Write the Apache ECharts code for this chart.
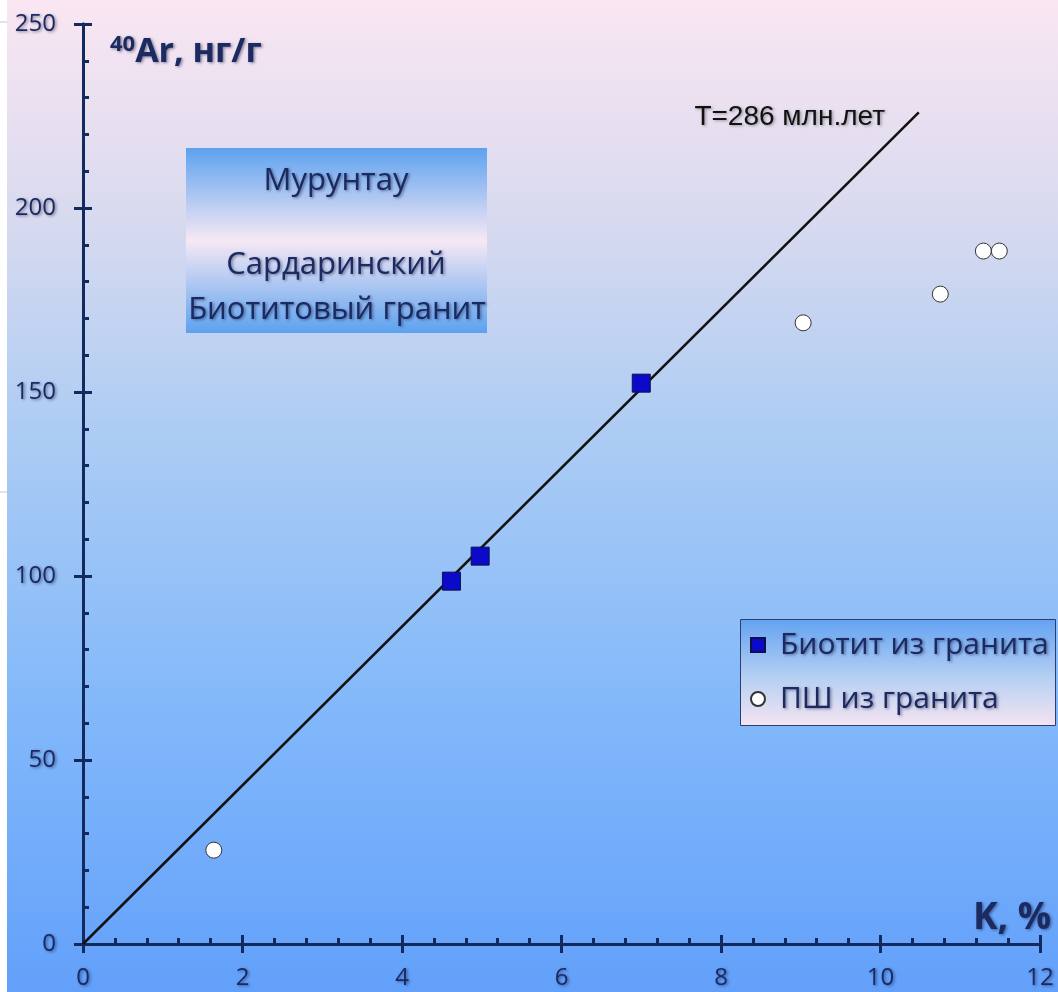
<!DOCTYPE html>
<html><head><meta charset="utf-8">
<script src="https://cdn.jsdelivr.net/npm/echarts@6/dist/echarts.min.js"></script>
<style>html,body{margin:0;padding:0;background:#fff;}#c{width:1058px;height:992px;}</style>
</head><body><div id="c"></div>
<script>
// ---- data ----
const xTickLabels = [0, 2, 4, 6, 8, 10, 12];
const yTickLabels = [0, 50, 100, 150, 200, 250];
const seriesNames = ['Биотит из гранита', 'ПШ из гранита'];
const biotiteK  = [4.62, 4.98, 7.00];
const biotiteAr = [98.6, 105.4, 152.4];
const fsK  = [1.64, 9.03, 10.75, 11.29, 11.49];
const fsAr = [25.5, 168.8, 176.6, 188.3, 188.3];
const isochronK  = [0, 10.48];
const isochronAr = [0, 226];
const isochronLabel = 'T=286 млн.лет';
const boxLines = ['Мурунтау', 'Сардаринский', 'Биотитовый гранит'];

const navy = '#122a5e';
const txt = '#1b2a60';
const shadow = {textShadowColor: 'rgba(0,0,40,0.45)', textShadowBlur: 3, textShadowOffsetX: 1.5, textShadowOffsetY: 1.5};
const font = '"Open Sans", Lato, sans-serif';

const zip = (a, b) => a.map((v, i) => [v, b[i]]);

const xMin = xTickLabels[0], xMax = xTickLabels[xTickLabels.length - 1];
const yMin = yTickLabels[0], yMax = yTickLabels[yTickLabels.length - 1];
const xInt = xTickLabels[1] - xTickLabels[0];
const yInt = yTickLabels[1] - yTickLabels[0];

const baseAxis = (min, max, interval) => ({
  type: 'value', min, max, interval,
  splitLine: {show: false},
  axisLine: {show: true, onZero: false, lineStyle: {color: navy, width: 3}},
});

const chart = echarts.init(document.getElementById('c'), null, {renderer: 'canvas'});
chart.setOption({
  animation: false,
  backgroundColor: 'transparent',
  grid: {left: 83, top: 24, width: 957, height: 920, containLabel: false, outerBoundsMode: 'none'},
  xAxis: [
    Object.assign(baseAxis(xMin, xMax, xInt), {
      position: 'bottom',
      axisTick: {show: true, inside: false, length: 9, lineStyle: {color: navy, width: 3}},
      axisLabel: Object.assign({show: true, margin: 22, color: txt, fontSize: 24, fontFamily: font}, shadow),
      minorTick: {show: false}
    }),
    Object.assign(baseAxis(xMin, xMax, xInt), {
      position: 'bottom',
      axisTick: {show: true, inside: true, length: 9, lineStyle: {color: navy, width: 3}},
      axisLabel: {show: false},
      minorTick: {show: true, splitNumber: 5, length: 6, lineStyle: {color: navy, width: 3}}
    })
  ],
  yAxis: [
    Object.assign(baseAxis(yMin, yMax, yInt), {
      position: 'left',
      axisTick: {show: true, inside: false, length: 9, lineStyle: {color: navy, width: 3}},
      axisLabel: Object.assign({show: true, margin: 27, color: txt, fontSize: 24, fontFamily: font}, shadow),
      minorTick: {show: false}
    }),
    Object.assign(baseAxis(yMin, yMax, yInt), {
      position: 'left',
      axisTick: {show: true, inside: true, length: 9, lineStyle: {color: navy, width: 3}},
      axisLabel: {show: false},
      minorTick: {show: true, splitNumber: 5, length: 6, lineStyle: {color: navy, width: 3}}
    })
  ],
  legend: {
    orient: 'vertical',
    left: 750, top: 629,
    padding: 0,
    itemGap: 22,
    itemWidth: 14, itemHeight: 14,
    textStyle: Object.assign({color: txt, fontSize: 30, fontFamily: font, lineHeight: 32, padding: [0, 0, 0, 10]}, shadow),
    data: [
      {name: seriesNames[0], icon: 'rect'},
      {name: seriesNames[1], icon: 'circle'}
    ],
    z: 10
  },
  graphic: [
    {type: 'rect', silent: true, z: -100, shape: {x: 0, y: 0, width: 1058, height: 992},
      style: {fill: new echarts.graphic.LinearGradient(0, 0, 0, 1, [
        {offset: 0, color: '#fae6f2'},
        {offset: 0.22, color: '#d8daef'},
        {offset: 0.45, color: '#aacbf4'},
        {offset: 0.7, color: '#84b9fa'},
        {offset: 1, color: '#62a0fa'}
      ])}},
    {type: 'rect', silent: true, z: -99, shape: {x: 0, y: 0, width: 7, height: 992}, style: {fill: '#ffffff'}},
    {type: 'line', silent: true, z: -98, shape: {x1: 0, y1: 22, x2: 7, y2: 22}, style: {stroke: '#c8c8c8', lineWidth: 1}},
    {type: 'line', silent: true, z: -98, shape: {x1: 0, y1: 492, x2: 7, y2: 492}, style: {stroke: '#c8c8c8', lineWidth: 1}},
    // legend box
    {type: 'rect', silent: true, z: 1, shape: {x: 740.5, y: 619.5, width: 315, height: 106},
      style: {stroke: '#2c3e70', lineWidth: 1, fill: new echarts.graphic.LinearGradient(0, 0, 0, 1, [
        {offset: 0, color: '#63a2f2'},
        {offset: 0.55, color: '#b6d0f2'},
        {offset: 1, color: '#f4e4f2'}
      ])}},
    // info box
    {type: 'rect', silent: true, z: 1, shape: {x: 186, y: 148, width: 301, height: 185},
      style: {fill: new echarts.graphic.LinearGradient(0, 0, 0, 1, [
        {offset: 0, color: '#5da2ef'},
        {offset: 0.5, color: '#f6e8f4'},
        {offset: 1, color: '#5ca2ef'}
      ])}},
    {type: 'text', silent: true, z: 2, style: Object.assign({text: boxLines[0], x: 336, y: 181, align: 'center', verticalAlign: 'middle', fill: txt, fontSize: 31, fontFamily: font}, shadow)},
    {type: 'text', silent: true, z: 2, style: Object.assign({text: boxLines[1], x: 336, y: 265, align: 'center', verticalAlign: 'middle', fill: txt, fontSize: 31, fontFamily: font}, shadow)},
    {type: 'text', silent: true, z: 2, style: Object.assign({text: boxLines[2], x: 337, y: 310, align: 'center', verticalAlign: 'middle', fill: txt, fontSize: 31, fontFamily: font}, shadow)},
    // axis names
    {type: 'text', silent: true, z: 5, style: Object.assign({
      text: '{s|40}{m|Ar, нг/г}', x: 110, y: 52, verticalAlign: 'middle',
      rich: {
        s: Object.assign({fontSize: 22, fontWeight: 'bold', fill: txt, fontFamily: font, verticalAlign: 'top', padding: [0, 0, 15, 0]}, shadow),
        m: Object.assign({fontSize: 34, fontWeight: 'bold', fill: txt, fontFamily: font}, shadow)
      }}, shadow)},
    {type: 'text', silent: true, z: 5, style: Object.assign({text: 'K, %', x: 1051, y: 918, align: 'right', verticalAlign: 'middle', fill: txt, fontSize: 37, fontWeight: 'bold', fontFamily: font}, shadow)},
    {type: 'text', silent: true, z: 5, style: {text: isochronLabel, x: 885, y: 117, align: 'right', verticalAlign: 'middle', fill: '#111111', fontSize: 28, fontFamily: '"Liberation Sans", Arial, sans-serif', textShadowColor: 'rgba(0,0,0,0.35)', textShadowBlur: 3, textShadowOffsetX: 1.5, textShadowOffsetY: 1.5}}
  ],
  series: [
    {
      name: 'isochron', type: 'line', xAxisIndex: 0, yAxisIndex: 0,
      data: zip(isochronK, isochronAr), symbol: 'none', silent: true,
      lineStyle: {color: '#111111', width: 2.5}, z: 3
    },
    {
      name: seriesNames[0], type: 'scatter', xAxisIndex: 0, yAxisIndex: 0,
      data: zip(biotiteK, biotiteAr), symbol: 'rect', symbolSize: 18,
      itemStyle: {color: '#0a0ac8', borderColor: '#101048', borderWidth: 1, opacity: 1}, z: 4
    },
    {
      name: seriesNames[1], type: 'scatter', xAxisIndex: 0, yAxisIndex: 0,
      data: zip(fsK, fsAr), symbol: 'circle', symbolSize: 16,
      itemStyle: {color: '#ffffff', borderColor: '#333333', borderWidth: 1, opacity: 1}, z: 4
    }
  ]
});
</script>
</body></html>
